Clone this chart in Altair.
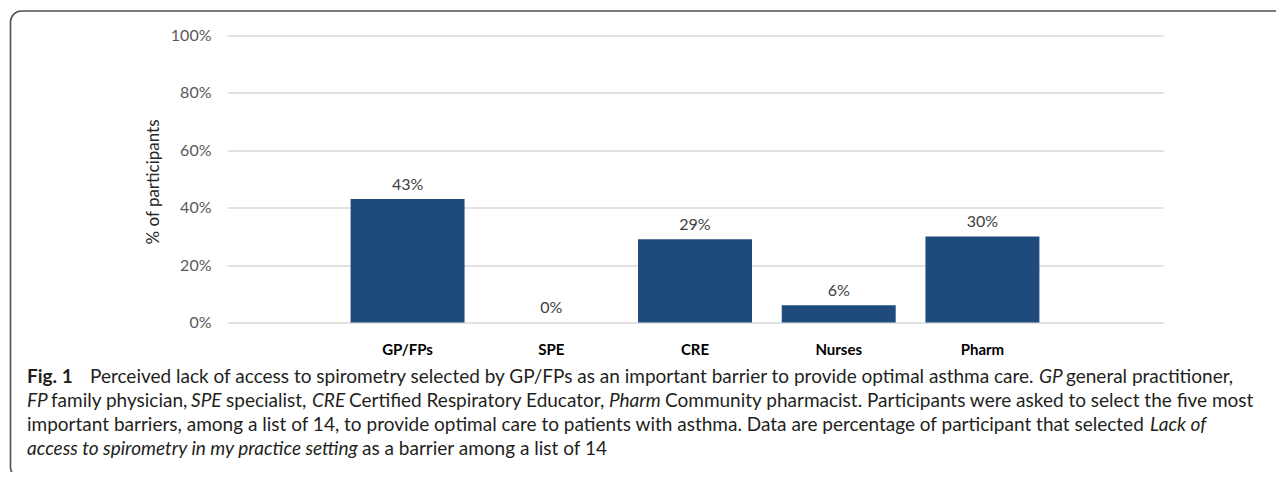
import altair as alt
import pandas as pd

# ---- data ----
categories = ["GP/FPs", "SPE", "CRE", "Nurses", "Pharm"]
values = [0.43, 0.0, 0.29, 0.06, 0.30]
y_ticks = [0, 0.2, 0.4, 0.6, 0.8, 1.0]

caption_lines = [
    [("Fig. 1", "bold"),
     ("Perceived lack of access to spirometry selected by GP/FPs as an important barrier to provide optimal asthma care.", "normal"),
     ("GP", "italic"),
     ("general practitioner,", "normal")],
    [("FP", "italic"),
     ("family physician,", "normal"),
     ("SPE", "italic"),
     ("specialist,", "normal"),
     ("CRE", "italic"),
     ("Certified Respiratory Educator,", "normal"),
     ("Pharm", "italic"),
     ("Community pharmacist. Participants were asked to select the five most", "normal")],
    [("important barriers, among a list of 14, to provide optimal care to patients with asthma. Data are percentage of participant that selected", "normal"),
     ("Lack of", "italic")],
    [("access to spirometry in my practice setting", "italic"),
     ("as a barrier among a list of 14", "normal")],
]

# ---- layout (page pixels) ----
PLOT_LEFT, PLOT_TOP = 227, 35.5
W, H = 936, 287
caption_x = [
    [27, 90, 1039, 1066],
    [27, 51, 191, 226, 312, 349, 609, 665],
    [27, 1150],
    [27, 362],
]
caption_base = [382.5, 406.5, 430.5, 454.5]
CAP_FONT = "Lato"
CAP_SIZE = 19
AX_FONT = "Lato"

df = pd.DataFrame({"cat": categories, "val": values})

base = alt.Chart(df)

bars = base.mark_bar(color="#1f4a7c").encode(
    x=alt.X("cat:N", sort=categories, title=None,
            scale=alt.Scale(paddingInner=0.207, paddingOuter=0.86),
            axis=alt.Axis(labelAngle=0, labelFont=AX_FONT, labelFontSize=15,
                          labelFontWeight="bold", labelColor="#000000",
                          ticks=False, tickSize=0, domain=False, labelPadding=27,
                          labelBaseline="middle")),
    y=alt.Y("val:Q", title="% of participants",
            scale=alt.Scale(domain=[0, 1], nice=False),
            axis=alt.Axis(values=y_ticks, format=".0%", labelFont=AX_FONT,
                          labelFontSize=16, labelColor="#595959",
                          ticks=False, tickSize=0, domain=False, labelPadding=16,
                          grid=True, gridColor="#d9d9d9", gridWidth=1.3,
                          titleFont=AX_FONT, titleFontSize=17, titleFontWeight="normal",
                          titleColor="#262626", titleX=-74, titleY=146,
                          titleAngle=270, titleAlign="center", titleBaseline="middle")),
)

labels = base.mark_text(font=AX_FONT, fontSize=16, color="#404040",
                        baseline="alphabetic", dy=-9.5).encode(
    x=alt.X("cat:N", sort=categories),
    y=alt.Y("val:Q"),
    text=alt.Text("val:Q", format=".0%"),
)

layers = [bars, labels]

# frame
frame = alt.Chart(pd.DataFrame({"a": [0]})).mark_rect(
    fill="transparent", stroke="#505050", strokeWidth=1.6, cornerRadius=11
).encode(
    x=alt.value(10.5 - PLOT_LEFT), x2=alt.value(1300 - PLOT_LEFT),
    y=alt.value(11 - PLOT_TOP), y2=alt.value(478 - PLOT_TOP),
)
layers.append(frame)

for li, line in enumerate(caption_lines):
    for si, (seg, style) in enumerate(line):
        kw = dict(font=CAP_FONT, fontSize=CAP_SIZE, color="#231f20",
                  align="left", baseline="alphabetic")
        if style == "bold":
            kw["fontWeight"] = "bold"
        elif style == "italic":
            kw["fontStyle"] = "italic"
        t = alt.Chart(pd.DataFrame({"t": [seg]})).mark_text(**kw).encode(
            x=alt.value(caption_x[li][si] - PLOT_LEFT),
            y=alt.value(caption_base[li] - PLOT_TOP),
            text="t:N",
        )
        layers.append(t)

chart = alt.layer(*layers).properties(
    width=W, height=H,
    autosize=alt.AutoSizeParams(type="none"),
    padding={"left": PLOT_LEFT - 8, "top": PLOT_TOP - 8,
             "right": 1268 - (PLOT_LEFT - 8) - W,
             "bottom": 464 - (PLOT_TOP - 8) - H},
).configure_view(strokeWidth=0)

chart.save("out.html", embed_options={"renderer": "svg", "actions": False})
